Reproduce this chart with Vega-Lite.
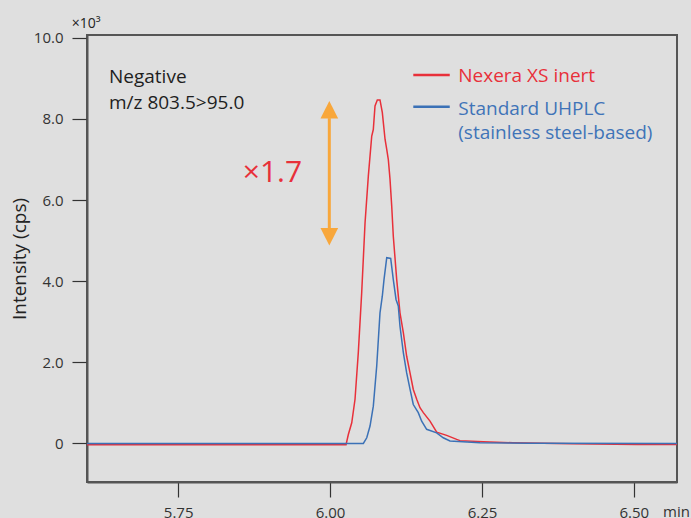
{
  "$schema": "https://vega.github.io/schema/vega-lite/v6.json",
  "width": 590,
  "height": 447,
  "autosize": "none",
  "padding": {"left": 87, "top": 35, "right": 14, "bottom": 36},
  "background": "#dfdfdf",
  "data": {"values": [{}]},
  "config": {
    "font": "Open Sans",
    "view": {"stroke": "#555555", "strokeWidth": 2},
    "axis": {"grid": false, "domainColor": "#555555", "domainWidth": 2, "tickColor": "#333333", "tickSize": 15, "tickWidth": 1.2, "labelColor": "#333333", "labelFontSize": 15, "titleFontWeight": "normal", "titleColor": "#222222", "titleFontSize": 19}
  },
  "datasets": {
    "chrom": [
      {"series": "Nexera XS inert", "t": 5.6, "v": -0.03},
      {"series": "Nexera XS inert", "t": 6.0263, "v": -0.03},
      {"series": "Nexera XS inert", "t": 6.0301, "v": 0.22},
      {"series": "Nexera XS inert", "t": 6.0357, "v": 0.51},
      {"series": "Nexera XS inert", "t": 6.0411, "v": 1.09},
      {"series": "Nexera XS inert", "t": 6.0465, "v": 2.24},
      {"series": "Nexera XS inert", "t": 6.0521, "v": 3.72},
      {"series": "Nexera XS inert", "t": 6.0576, "v": 5.44},
      {"series": "Nexera XS inert", "t": 6.063, "v": 6.59},
      {"series": "Nexera XS inert", "t": 6.0686, "v": 7.58},
      {"series": "Nexera XS inert", "t": 6.0712, "v": 7.74},
      {"series": "Nexera XS inert", "t": 6.074, "v": 8.32},
      {"series": "Nexera XS inert", "t": 6.0778, "v": 8.47},
      {"series": "Nexera XS inert", "t": 6.0822, "v": 8.47},
      {"series": "Nexera XS inert", "t": 6.086, "v": 8.16},
      {"series": "Nexera XS inert", "t": 6.0905, "v": 7.5},
      {"series": "Nexera XS inert", "t": 6.0933, "v": 7.25},
      {"series": "Nexera XS inert", "t": 6.0959, "v": 7.0},
      {"series": "Nexera XS inert", "t": 6.0987, "v": 6.51},
      {"series": "Nexera XS inert", "t": 6.1015, "v": 5.85},
      {"series": "Nexera XS inert", "t": 6.1041, "v": 5.11},
      {"series": "Nexera XS inert", "t": 6.1097, "v": 4.04},
      {"series": "Nexera XS inert", "t": 6.1151, "v": 3.22},
      {"series": "Nexera XS inert", "t": 6.1206, "v": 2.73},
      {"series": "Nexera XS inert", "t": 6.1261, "v": 2.15},
      {"series": "Nexera XS inert", "t": 6.1316, "v": 1.74},
      {"series": "Nexera XS inert", "t": 6.137, "v": 1.33},
      {"series": "Nexera XS inert", "t": 6.1426, "v": 1.09},
      {"series": "Nexera XS inert", "t": 6.148, "v": 0.88},
      {"series": "Nexera XS inert", "t": 6.1535, "v": 0.76},
      {"series": "Nexera XS inert", "t": 6.1645, "v": 0.55},
      {"series": "Nexera XS inert", "t": 6.1755, "v": 0.28},
      {"series": "Nexera XS inert", "t": 6.1919, "v": 0.2},
      {"series": "Nexera XS inert", "t": 6.2084, "v": 0.1},
      {"series": "Nexera XS inert", "t": 6.2138, "v": 0.07},
      {"series": "Nexera XS inert", "t": 6.2521, "v": 0.04},
      {"series": "Nexera XS inert", "t": 6.301, "v": 0.017},
      {"series": "Nexera XS inert", "t": 6.4, "v": -0.007},
      {"series": "Nexera XS inert", "t": 6.505, "v": -0.025},
      {"series": "Nexera XS inert", "t": 6.571, "v": -0.025},
      {"series": "Standard UHPLC", "t": 5.6, "v": 0},
      {"series": "Standard UHPLC", "t": 6.0548, "v": 0},
      {"series": "Standard UHPLC", "t": 6.0604, "v": 0.14},
      {"series": "Standard UHPLC", "t": 6.0658, "v": 0.43},
      {"series": "Standard UHPLC", "t": 6.0712, "v": 0.92},
      {"series": "Standard UHPLC", "t": 6.0768, "v": 1.91},
      {"series": "Standard UHPLC", "t": 6.0822, "v": 3.22},
      {"series": "Standard UHPLC", "t": 6.086, "v": 3.63},
      {"series": "Standard UHPLC", "t": 6.0888, "v": 4.04},
      {"series": "Standard UHPLC", "t": 6.0933, "v": 4.58},
      {"series": "Standard UHPLC", "t": 6.0998, "v": 4.56},
      {"series": "Standard UHPLC", "t": 6.1041, "v": 4.04},
      {"series": "Standard UHPLC", "t": 6.1086, "v": 3.55},
      {"series": "Standard UHPLC", "t": 6.1123, "v": 3.39},
      {"series": "Standard UHPLC", "t": 6.1151, "v": 2.89},
      {"series": "Standard UHPLC", "t": 6.1206, "v": 2.24},
      {"series": "Standard UHPLC", "t": 6.1261, "v": 1.74},
      {"series": "Standard UHPLC", "t": 6.1316, "v": 1.34},
      {"series": "Standard UHPLC", "t": 6.137, "v": 0.96},
      {"series": "Standard UHPLC", "t": 6.1452, "v": 0.76},
      {"series": "Standard UHPLC", "t": 6.1508, "v": 0.55},
      {"series": "Standard UHPLC", "t": 6.159, "v": 0.35},
      {"series": "Standard UHPLC", "t": 6.1755, "v": 0.26},
      {"series": "Standard UHPLC", "t": 6.1863, "v": 0.14},
      {"series": "Standard UHPLC", "t": 6.1974, "v": 0.06},
      {"series": "Standard UHPLC", "t": 6.2467, "v": 0.017},
      {"series": "Standard UHPLC", "t": 6.329, "v": 0.007},
      {"series": "Standard UHPLC", "t": 6.571, "v": 0}
    ]
  },
  "layer": [
    {
      "data": {"name": "chrom"},
      "mark": {"type": "line", "strokeWidth": 1.5, "interpolate": "linear"},
      "encoding": {
        "x": {"field": "t", "type": "quantitative", "scale": {"domain": [5.6, 6.571], "nice": false, "zero": false},
              "axis": {"values": [5.75, 6.0, 6.25, 6.5], "format": ".2f", "title": null, "labelPadding": 8}},
        "y": {"field": "v", "type": "quantitative", "scale": {"domain": [-0.95, 10.07], "nice": false, "zero": false},
              "axis": {"values": [0, 2, 4, 6, 8, 10], "labelExpr": "datum.value == 0 ? '0' : format(datum.value, '.1f')", "title": "Intensity (cps)", "labelPadding": 9, "titlePadding": 4}},
        "color": {"field": "series", "type": "nominal", "scale": {"domain": ["Nexera XS inert", "Standard UHPLC"], "range": ["#e8303a", "#3b71b6"]}, "legend": null},
        "order": {"field": "t", "type": "quantitative"}
      }
    },
    {
      "mark": {"type": "text", "text": "Negative", "align": "left", "baseline": "alphabetic", "fontSize": 19, "color": "#1e1e1e"},
      "encoding": {"x": {"datum": 5.6362, "scale": {"domain": [5.6, 6.571]}}, "y": {"datum": 8.878, "scale": {"domain": [-0.95, 10.07]}}}
    },
    {
      "mark": {"type": "text", "text": "m/z 803.5>95.0", "align": "left", "baseline": "alphabetic", "fontSize": 19, "color": "#1e1e1e"},
      "encoding": {"x": {"datum": 5.6362, "scale": {"domain": [5.6, 6.571]}}, "y": {"datum": 8.237, "scale": {"domain": [-0.95, 10.07]}}}
    },
    {
      "mark": {"type": "text", "text": "×1.7", "align": "left", "baseline": "alphabetic", "fontSize": 30, "color": "#e8303a"},
      "encoding": {"x": {"datum": 5.8563, "scale": {"domain": [5.6, 6.571]}}, "y": {"datum": 6.452, "scale": {"domain": [-0.95, 10.07]}}}
    },
    {
      "mark": {"type": "rule", "color": "#f8a73b", "strokeWidth": 3},
      "encoding": {"x": {"datum": 5.9988, "scale": {"domain": [5.6, 6.571]}}, "y": {"datum": 8.02, "scale": {"domain": [-0.95, 10.07]}}, "y2": {"datum": 5.31}}
    },
    {
      "mark": {"type": "point", "shape": "M0,-1L1,1L-1,1Z", "size": 313, "filled": true, "opacity": 1, "color": "#f8a73b", "strokeWidth": 0},
      "encoding": {"x": {"datum": 5.9988, "scale": {"domain": [5.6, 6.571]}}, "y": {"datum": 8.227, "scale": {"domain": [-0.95, 10.07]}}}
    },
    {
      "mark": {"type": "point", "shape": "M0,1L1,-1L-1,-1Z", "size": 313, "filled": true, "opacity": 1, "color": "#f8a73b", "strokeWidth": 0},
      "encoding": {"x": {"datum": 5.9988, "scale": {"domain": [5.6, 6.571]}}, "y": {"datum": 5.096, "scale": {"domain": [-0.95, 10.07]}}}
    },
    {
      "mark": {"type": "rule", "color": "#e8303a", "strokeWidth": 2.5},
      "encoding": {"x": {"datum": 6.137, "scale": {"domain": [5.6, 6.571]}}, "x2": {"datum": 6.197}, "y": {"datum": 9.083, "scale": {"domain": [-0.95, 10.07]}}}
    },
    {
      "mark": {"type": "rule", "color": "#3b71b6", "strokeWidth": 2.5},
      "encoding": {"x": {"datum": 6.137, "scale": {"domain": [5.6, 6.571]}}, "x2": {"datum": 6.197}, "y": {"datum": 8.301, "scale": {"domain": [-0.95, 10.07]}}}
    },
    {
      "mark": {"type": "text", "text": "Nexera XS inert", "align": "left", "baseline": "alphabetic", "fontSize": 19, "color": "#e8303a"},
      "encoding": {"x": {"datum": 6.211, "scale": {"domain": [5.6, 6.571]}}, "y": {"datum": 8.903, "scale": {"domain": [-0.95, 10.07]}}}
    },
    {
      "mark": {"type": "text", "text": ["Standard UHPLC", "(stainless steel-based)"], "lineHeight": 24, "align": "left", "baseline": "alphabetic", "fontSize": 19, "color": "#3f74b8"},
      "encoding": {"x": {"datum": 6.211, "scale": {"domain": [5.6, 6.571]}}, "y": {"datum": 8.097, "scale": {"domain": [-0.95, 10.07]}}}
    },
    {
      "mark": {"type": "text", "text": "×10³", "align": "left", "baseline": "alphabetic", "fontSize": 14, "color": "#222222"},
      "encoding": {"x": {"datum": 5.5749, "scale": {"domain": [5.6, 6.571]}}, "y": {"datum": 10.234, "scale": {"domain": [-0.95, 10.07]}}}
    },
    {
      "mark": {"type": "text", "text": "min", "align": "left", "baseline": "alphabetic", "fontSize": 15, "color": "#333333"},
      "encoding": {"x": {"datum": 6.548, "scale": {"domain": [5.6, 6.571]}}, "y": {"datum": -1.815, "scale": {"domain": [-0.95, 10.07]}}}
    }
  ]
}
